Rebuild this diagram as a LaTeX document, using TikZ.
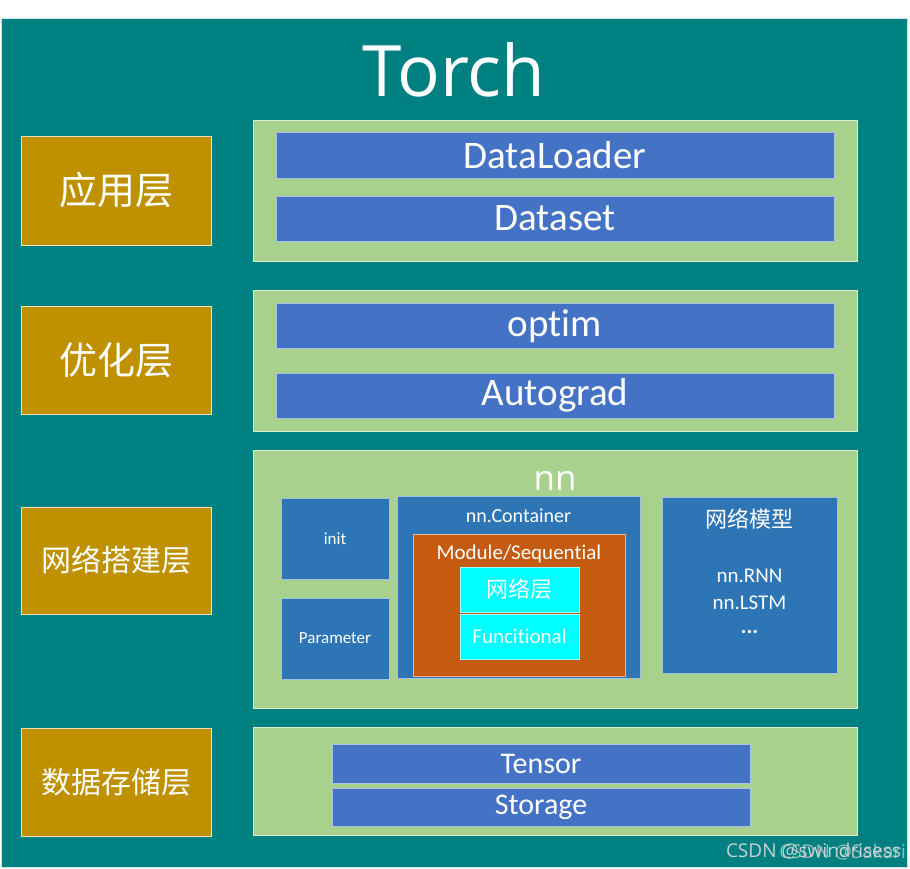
\documentclass[tikz,border=0pt]{standalone}
\usepackage{fontspec}
\setmainfont[Ligatures=NoCommon]{Carlito}
\newfontfamily\cjk{Noto Sans CJK SC}
\newfontfamily\torchfont{Open Sans}
\newfontfamily\wmfont{Open Sans}
\definecolor{tealbg}{RGB}{0,128,128}
\definecolor{goldbox}{RGB}{191,144,0}
\definecolor{greenbox}{RGB}{169,209,142}
\definecolor{bluebar}{RGB}{68,114,196}
\definecolor{nnblue}{RGB}{46,117,182}
\definecolor{orangebox}{RGB}{197,90,17}
\definecolor{cyanbox}{RGB}{0,255,255}
\definecolor{wmark}{RGB}{200,210,210}
\tikzset{
  every node/.style={inner sep=0pt, outer sep=0pt, text=white},
  layerbox/.style={fill=goldbox, draw=white!75!goldbox, line width=0.8pt, font=\cjk\fontsize{38}{40}\selectfont},
  greenpanel/.style={fill=greenbox, draw=white!60!greenbox, line width=0.6pt},
  barbox/.style={fill=bluebar, draw=white!55!bluebar, line width=0.6pt, font=\fontsize{39}{42}\selectfont},
  nnbox/.style={fill=nnblue, draw=white!55!nnblue, line width=0.6pt},
  modbox/.style={fill=orangebox, draw=white!55!orangebox, line width=0.6pt},
  cybox/.style={fill=cyanbox, draw=white!60!cyanbox, line width=0.6pt},
  smallbar/.style={fill=bluebar, draw=white!55!bluebar, line width=0.6pt, font=\fontsize{30}{32}\selectfont},
  wmtext/.style={text=wmark, font=\wmfont\fontsize{19}{21}\selectfont},
}
\begin{document}
\begin{tikzpicture}[x=1pt,y=-1pt]
\useasboundingbox (0,0) rectangle (910,869);
\fill[white] (0,0) rectangle (910,869);
% background
\node[fill=tealbg, draw=white!80!tealbg, line width=0.8pt, minimum width=906pt, minimum height=849pt] (bg) at (454,442.5) {};
\node[font=\torchfont\fontsize{71}{73}\selectfont] (title) at (454,70) {Torch};
% layer labels
\node[layerbox, minimum width=190pt, minimum height=109pt] (l1) at (116,190.5) {应用层};
\node[layerbox, minimum width=190pt, minimum height=108pt] (l2) at (116,360) {优化层};
\node[layerbox, minimum width=190pt, minimum height=107pt, font=\cjk\fontsize{30}{32}\selectfont] (l3) at (116,560.5) {网络搭建层};
\node[layerbox, minimum width=190pt, minimum height=108pt, font=\cjk\fontsize{30}{32}\selectfont] (l4) at (116,782) {数据存储层};
% green panels
\node[greenpanel, minimum width=604pt, minimum height=141pt] (g1) at (555,190.5) {};
\node[greenpanel, minimum width=604pt, minimum height=141pt] (g2) at (555,360.5) {};
\node[greenpanel, minimum width=604pt, minimum height=258pt] (g3) at (555,579) {};
\node[greenpanel, minimum width=604pt, minimum height=108pt] (g4) at (555,781) {};
% application layer
\node[barbox, minimum width=558pt, minimum height=46pt] (dataloader) at (555,155) {DataLoader};
\node[barbox, minimum width=558pt, minimum height=45pt] (dataset) at (555,218.5) {Dataset};
% optimisation layer
\node[barbox, minimum width=558pt, minimum height=45pt] (optim) at (555,326) {optim};
\node[barbox, minimum width=558pt, minimum height=45pt] (autograd) at (555,395.5) {Autograd};
% nn layer
\node[font=\torchfont\fontsize{35}{37}\selectfont] (nn) at (555,481) {nn};
\node[nnbox, minimum width=108pt, minimum height=81pt, font=\fontsize{17}{19}\selectfont] (init) at (335,538.5) {init};
\node[nnbox, minimum width=108pt, minimum height=81pt, font=\fontsize{17}{19}\selectfont] (param) at (335,638.5) {Parameter};
\node[nnbox, minimum width=243pt, minimum height=182pt] (container) at (518.5,587) {};
\node[font=\fontsize{20}{22}\selectfont] (containerlbl) at (518.5,516) {nn.Container};
\node[modbox, minimum width=212pt, minimum height=142pt] (module) at (519,605) {};
\node[font=\fontsize{21}{23}\selectfont] (modulelbl) at (519,554) {Module/Sequential};
\node[cybox, minimum width=119pt, minimum height=45pt, font=\cjk\fontsize{22}{24}\selectfont] (netlayer) at (519.5,589.5) {网络层};
\node[cybox, minimum width=119pt, minimum height=45pt, font=\fontsize{21}{23}\selectfont] (functional) at (519.5,636.5) {Funcitional};
\node[nnbox, minimum width=175pt, minimum height=176pt] (models) at (749.5,585) {};
\node[font=\cjk\fontsize{22}{24}\selectfont] (modelslbl) at (749.5,519) {网络模型};
\node[font=\fontsize{21}{23}\selectfont] (rnn) at (749.5,576) {nn.RNN};
\node[font=\fontsize{21}{23}\selectfont] (lstm) at (749.5,603) {nn.LSTM};
\node[font=\bfseries\fontsize{22}{24}\selectfont] (dots) at (749.5,632) {...};
% storage layer
\node[smallbar, minimum width=418pt, minimum height=39pt] (tensor) at (541,763.5) {Tensor};
\node[smallbar, minimum width=418pt, minimum height=38pt] (storage) at (541,807) {Storage};
% watermark (two overlapping marks, as in the source image)
\node[wmtext, anchor=west] (wm1) at (726,851) {CSDN @swindrisess};
\node[wmtext, anchor=east, opacity=0.75] (wm2) at (906,852) {CSDN @Sakari};
\end{tikzpicture}
\end{document}
